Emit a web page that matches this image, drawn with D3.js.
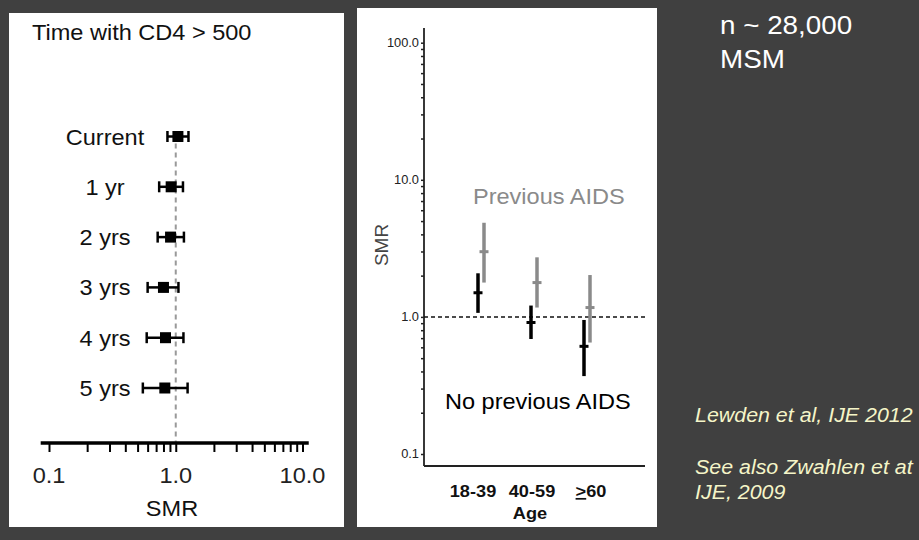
<!DOCTYPE html>
<html>
<head>
<meta charset="utf-8">
<script src="https://cdn.jsdelivr.net/npm/d3@7"></script>
<style>
  body { margin: 0; background: #404040; }
  svg { display: block; font-family: "Liberation Sans", Arial, sans-serif; }
</style>
</head>
<body>
<div id="container"></div>
<script>
/* DATA */
const periods = ["Current", "1 yr", "2 yrs", "3 yrs", "4 yrs", "5 yrs"];
const periodSMR = [1.04, 0.92, 0.91, 0.80, 0.83, 0.82];
const periodLow = [0.86, 0.74, 0.72, 0.60, 0.59, 0.55];
const periodHigh = [1.26, 1.14, 1.16, 1.05, 1.15, 1.24];
const smrTicks = [0.1, 1, 10];
const smrTickLabels = ["0.1", "1.0", "10.0"];

const ageGroups = ["18-39", "40-59", ">60"];
const noAidsSMR = [1.50, 0.91, 0.61];
const noAidsLow = [1.07, 0.69, 0.37];
const noAidsHigh = [2.08, 1.21, 0.95];
const aidsSMR = [2.99, 1.78, 1.17];
const aidsLow = [1.78, 1.17, 0.65];
const aidsHigh = [4.86, 2.72, 2.02];
const ageTicks = [0.1, 1, 10, 100];
const ageTickLabels = ["0.1", "1.0", "10.0", "100.0"];

/* CONSTANTS */
const width = 919, height = 540;
const SX = 1.07; // slide text is slightly stretched sideways

const svg = d3.select("#container")
  .append("svg")
  .attr("width", width)
  .attr("height", height);

svg.append("rect")
  .attr("width", width)
  .attr("height", height)
  .attr("fill", "#404040");

function label(g, x, y, str, size) {
  return g.append("text")
    .attr("transform", `translate(${x},${y}) scale(${SX},1)`)
    .style("font-size", size + "px")
    .text(str);
}

/* LEFT PANEL: forest plot */
const left = svg.append("g");
left.append("rect")
  .attr("x", 9).attr("y", 13)
  .attr("width", 335).attr("height", 514)
  .attr("fill", "#fff");

const xScale = d3.scaleLog()
  .domain([0.1, 10])
  .range([49, 302.5]);

const yRow = d3.scalePoint()
  .domain(periods)
  .range([136.5, 388]);

const axisY = 443;

label(left, 32, 40, "Time with CD4 > 500", 22).attr("fill", "#111");

// reference line at SMR = 1
left.append("line")
  .attr("x1", xScale(1)).attr("x2", xScale(1))
  .attr("y1", yRow(periods[0]) + 7).attr("y2", axisY)
  .attr("stroke", "#999")
  .attr("stroke-width", 2)
  .attr("stroke-dasharray", "5,4");

periods.forEach((p, i) => {
  const y = yRow(p);
  label(left, 105, y + 8, p, 22)
    .attr("fill", "#111")
    .style("text-anchor", "middle");

  const row = left.append("g").attr("stroke", "#000").attr("stroke-width", 2.5);
  row.append("line")
    .attr("x1", xScale(periodLow[i])).attr("x2", xScale(periodHigh[i]))
    .attr("y1", y).attr("y2", y);
  [periodLow[i], periodHigh[i]].forEach(v => {
    row.append("line")
      .attr("x1", xScale(v)).attr("x2", xScale(v))
      .attr("y1", y - 5.5).attr("y2", y + 5.5);
  });
  left.append("rect")
    .attr("x", xScale(periodSMR[i]) - 5.5)
    .attr("y", y - 5.5)
    .attr("width", 11).attr("height", 11)
    .attr("fill", "#000");
});

// x axis with log minor ticks
const xAxis = d3.axisBottom(xScale)
  .tickValues(xScale.ticks())
  .tickSize(9)
  .tickFormat("");

const xAxisGroup = left.append("g")
  .attr("transform", `translate(0, ${axisY})`)
  .call(xAxis);
xAxisGroup.select(".domain").remove();
xAxisGroup.selectAll(".tick line").attr("stroke", "#000").attr("stroke-width", 2);

left.append("line")
  .attr("x1", xScale(0.086)).attr("x2", xScale(11.2))
  .attr("y1", axisY).attr("y2", axisY)
  .attr("stroke", "#000")
  .attr("stroke-width", 3.5);

smrTicks.forEach((v, i) => {
  label(left, xScale(v), 483, smrTickLabels[i], 22)
    .attr("fill", "#222")
    .style("text-anchor", "middle");
});

label(left, 172, 516, "SMR", 22)
  .attr("fill", "#111")
  .style("text-anchor", "middle");

/* RIGHT PANEL: SMR by age */
const right = svg.append("g");
right.append("rect")
  .attr("x", 357).attr("y", 8)
  .attr("width", 300).attr("height", 519)
  .attr("fill", "#fff");

const axisX = 424, baseY = 466;

const yScale = d3.scaleLog()
  .domain([0.1, 100])
  .range([454, 42.7]);

const xAge = d3.scalePoint()
  .domain(ageGroups)
  .range([481, 587]);

const xAgeLabel = d3.scalePoint()
  .domain(ageGroups)
  .range([473, 591]);

const yAxis = d3.axisLeft(yScale)
  .tickValues(yScale.ticks())
  .tickSize(3)
  .tickFormat("");

const yAxisGroup = right.append("g")
  .attr("transform", `translate(${axisX}, 0)`)
  .call(yAxis);
yAxisGroup.select(".domain").remove();
yAxisGroup.selectAll(".tick line").attr("stroke", "#222").attr("stroke-width", 1.5);

right.append("line")
  .attr("x1", axisX).attr("x2", axisX)
  .attr("y1", 28).attr("y2", baseY)
  .attr("stroke", "#222").attr("stroke-width", 1.8);

right.append("line")
  .attr("x1", axisX).attr("x2", 645)
  .attr("y1", baseY).attr("y2", baseY)
  .attr("stroke", "#222").attr("stroke-width", 1.8);

ageTicks.forEach((v, i) => {
  label(right, 419, yScale(v) + 4, ageTickLabels[i], 12)
    .attr("fill", "#222")
    .style("text-anchor", "end");
});

right.append("line")
  .attr("x1", axisX).attr("x2", 648)
  .attr("y1", yScale(1)).attr("y2", yScale(1))
  .attr("stroke", "#111")
  .attr("stroke-width", 1.5)
  .attr("stroke-dasharray", "4,3");

function drawBars(smr, lo, hi, offset, color) {
  ageGroups.forEach((a, i) => {
    const x = xAge(a) + offset;
    right.append("line")
      .attr("x1", x).attr("x2", x)
      .attr("y1", yScale(hi[i])).attr("y2", yScale(lo[i]))
      .attr("stroke", color).attr("stroke-width", 3.5);
    right.append("line")
      .attr("x1", x - 4.5).attr("x2", x + 4.5)
      .attr("y1", yScale(smr[i])).attr("y2", yScale(smr[i]))
      .attr("stroke", color).attr("stroke-width", 3);
  });
}
drawBars(aidsSMR, aidsLow, aidsHigh, 3, "#8a8a8a");
drawBars(noAidsSMR, noAidsLow, noAidsHigh, -3, "#000");

label(right, 473, 204, "Previous AIDS", 22).attr("fill", "#8a8a8a");
label(right, 445, 409, "No previous AIDS", 22).attr("fill", "#000");

right.append("text")
  .attr("transform", "translate(388, 245) rotate(-90)")
  .style("text-anchor", "middle")
  .style("font-size", "19px")
  .attr("fill", "#444")
  .text("SMR");

ageGroups.forEach(a => {
  const t = label(right, xAgeLabel(a), 497, "", 17)
    .style("text-anchor", "middle")
    .style("font-weight", "bold")
    .attr("fill", "#111");
  if (a.startsWith(">")) {
    t.append("tspan").style("text-decoration", "underline").text(">");
    t.append("tspan").text(a.slice(1));
  } else {
    t.text(a);
  }
});

label(right, 530, 519, "Age", 17)
  .style("text-anchor", "middle")
  .style("font-weight", "bold")
  .attr("fill", "#111");

/* SIDE NOTES */
label(svg, 720, 34, "n ~ 28,000", 26).attr("fill", "#fff");
label(svg, 720, 68, "MSM", 26).attr("fill", "#fff");

const notes = [["Lewden et al, IJE 2012", 422], ["See also Zwahlen et at", 474], ["IJE, 2009", 499]];
notes.forEach(([str, y]) => {
  label(svg, 695, y, str, 20)
    .attr("fill", "#f5f5c8")
    .style("font-style", "italic");
});
</script>
</body>
</html>
